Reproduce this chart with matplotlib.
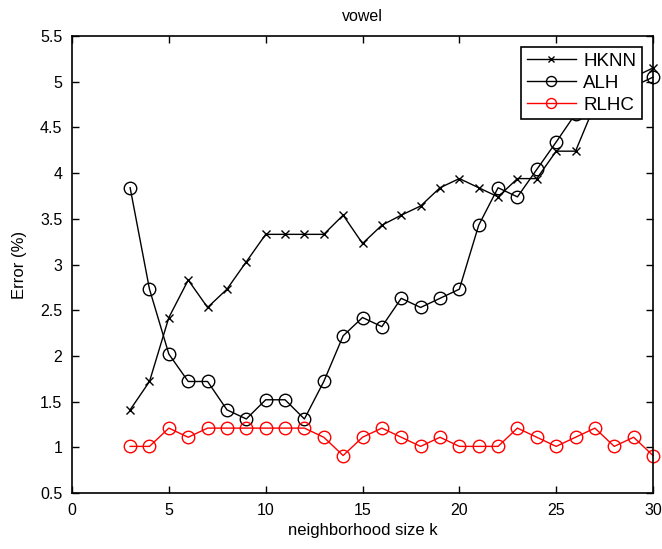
import numpy as np
import matplotlib
matplotlib.use("Agg")
import matplotlib.pyplot as plt

plt.rcParams["font.family"] = ["Liberation Sans", "DejaVu Sans"]

# neighborhood sizes
k = list(range(3, 31))

# error rates (%)
hknn = [1.41, 1.72, 2.42, 2.83, 2.53, 2.73, 3.03, 3.33, 3.33, 3.33,
        3.33, 3.54, 3.23, 3.43, 3.54, 3.64, 3.84, 3.94, 3.84, 3.74,
        3.94, 3.94, 4.24, 4.24, 4.75, 4.85, 5.05, 5.15]
alh = [3.84, 2.73, 2.02, 1.72, 1.72, 1.41, 1.31, 1.52, 1.52, 1.31,
       1.72, 2.22, 2.42, 2.32, 2.63, 2.53, 2.63, 2.73, 3.43, 3.84,
       3.74, 4.04, 4.34, 4.65, 4.75, 4.85, 4.95, 5.05]
rlhc = [1.01, 1.01, 1.21, 1.11, 1.21, 1.21, 1.21, 1.21, 1.21, 1.21,
        1.11, 0.91, 1.11, 1.21, 1.11, 1.01, 1.11, 1.01, 1.01, 1.01,
        1.21, 1.11, 1.01, 1.11, 1.21, 1.01, 1.11, 0.91]

xticks = [0, 5, 10, 15, 20, 25, 30]
yticks = [0.5, 1, 1.5, 2, 2.5, 3, 3.5, 4, 4.5, 5, 5.5]
ytick_labels = ["0.5", "1", "1.5", "2", "2.5", "3", "3.5", "4", "4.5", "5", "5.5"]

fig = plt.figure(figsize=(6.62, 5.49), dpi=100)
ax = fig.add_axes([0.1088, 0.102, 0.8776, 0.8324])

ax.plot(k, hknn, color="black", lw=1, marker="x", ms=6, mew=1,
        label="HKNN", clip_on=False)
ax.plot(k, alh, color="black", lw=1, marker="o", ms=9, mfc="none",
        mew=1, label="ALH", clip_on=False)
ax.plot(k, rlhc, color="red", lw=1, marker="o", ms=9, mfc="none",
        mew=1, label="RLHC", clip_on=False)

ax.set_xlim(0, 30)
ax.set_ylim(0.5, 5.5)
ax.set_xticks(xticks)
ax.set_yticks(yticks)
ax.set_yticklabels(ytick_labels)
ax.tick_params(direction="in", length=5, width=1, labelsize=11.5,
               top=True, right=True, pad=7)
for s in ax.spines.values():
    s.set_linewidth(1.2)

ax.set_xlabel("neighborhood size k", fontsize=12, labelpad=4)
ax.set_ylabel("Error (%)", fontsize=12, labelpad=9)
ax.set_title("vowel", fontsize=11.5, pad=11)

leg = ax.legend(loc="upper right", fontsize=13.5, frameon=True, fancybox=False,
                framealpha=1, edgecolor="black", handlelength=2.6,
                borderaxespad=0.6, borderpad=0.3, labelspacing=0.25,
                handletextpad=0.4, markerscale=0.8)
leg.get_frame().set_linewidth(1.2)
leg.set_zorder(5)

fig.savefig("out.png", dpi=100)
